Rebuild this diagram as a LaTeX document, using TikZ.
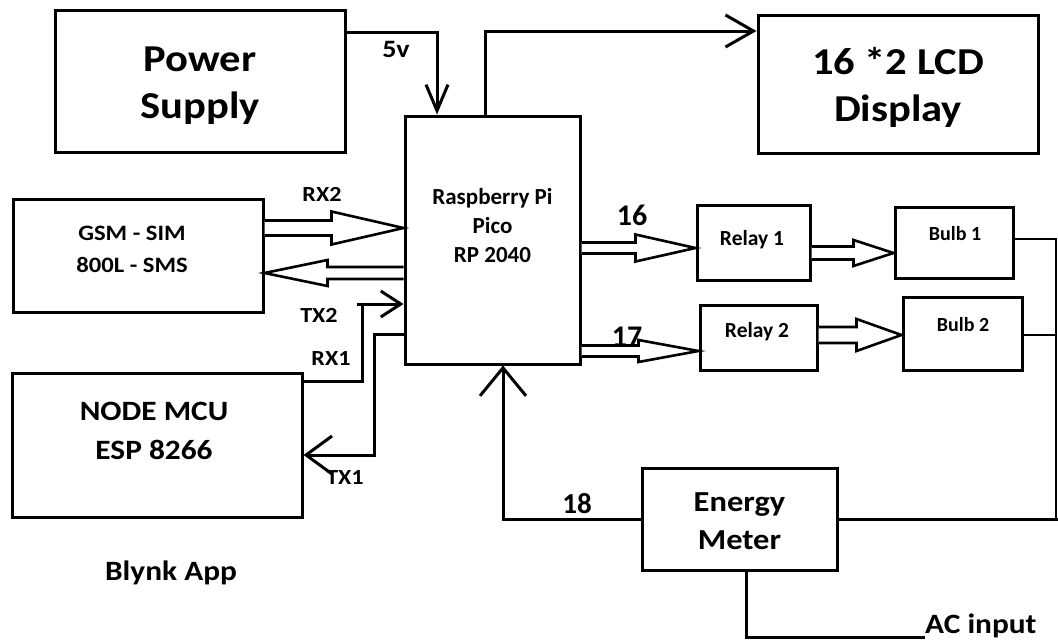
\documentclass[tikz,border=0pt]{standalone}
\usepackage{fontspec}
\setmainfont{Carlito}
\newfontfamily\wide{Carlito}[FakeStretch=1.12]
\usetikzlibrary{arrows.meta,calc}
\newcommand\fs[2]{\fontsize{#1pt}{#2pt}\selectfont}
% hollow double-line arrow: #1 start, #2 tip, #3 shaft half width, #4 head half width, #5 head length
\newcommand\harrow[5]{%
  \coordinate (hA) at ($(#2)!#5!(#1)$);
  \draw[hollow] ($(#1)+(0,#3)$) -- ($(hA)+(0,#3)$) -- ($(hA)+(0,#4)$) -- (#2)
    -- ($(hA)+(0,-#4)$) -- ($(hA)+(0,-#3)$) -- ($(#1)+(0,-#3)$);}
\begin{document}
\begin{tikzpicture}[x=1pt,y=-1pt,
  box/.style={draw, line width=3pt, inner sep=0pt, align=center},
  wire/.style={line width=3pt},
  thinwire/.style={line width=1.6pt},
  hollow/.style={line width=2.6pt, fill=white, line join=miter},
  lbl/.style={font=\bfseries, inner sep=0pt, align=center}]
\useasboundingbox (0,0) rectangle (1058,643);

% boxes
\node[box, minimum width=290pt, minimum height=142pt] (ps) at (200,81) {};
\node[box, minimum width=280pt, minimum height=138pt] (lcd) at (898,84) {};
\node[box, minimum width=175pt, minimum height=248pt] (pico) at (492.5,240) {};
\node[box, minimum width=250pt, minimum height=113pt] (gsm) at (138,255.5) {};
\node[box, minimum width=290pt, minimum height=144pt] (mcu) at (157,445) {};
\node[box, minimum width=113pt, minimum height=75pt] (r1) at (753.5,242.5) {};
\node[box, minimum width=117pt, minimum height=65pt] (r2) at (758.5,337.5) {};
\node[box, minimum width=118pt, minimum height=71pt] (b1) at (954,242.5) {};
\node[box, minimum width=119pt, minimum height=73pt] (b2) at (962.5,333.5) {};
\node[box, minimum width=195pt, minimum height=102pt] (em) at (739.5,519) {};

% box texts
\node[lbl, font=\wide\bfseries\fs{38}{47}] (pst) at (200,86) {Power\\Supply};
\node[lbl, font=\wide\bfseries\fs{38}{47}] (lcdt) at (898,87) {16 *2 LCD\\Display};
\node[lbl, font=\bfseries\fs{23}{29}] (picot) at (492.5,226) {Raspberry Pi\\Pico\\RP 2040};
\node[lbl, font=\wide\bfseries\fs{22}{32}] (gsmt) at (132,249) {GSM - SIM\\800L - SMS};
\node[lbl, font=\wide\bfseries\fs{28}{39}] (mcut) at (154,431) {NODE MCU\\ESP 8266};
\node[lbl, font=\bfseries\fs{21.5}{26}] (r1t) at (752,240) {Relay 1};
\node[lbl, font=\bfseries\fs{21.5}{26}] (r2t) at (757,332) {Relay 2};
\node[lbl, font=\bfseries\fs{20}{24}] (b1t) at (955,234) {Bulb 1};
\node[lbl, font=\bfseries\fs{20}{24}] (b2t) at (963,325) {Bulb 2};
\node[lbl, font=\wide\bfseries\fs{29}{38}] (emt) at (739.5,521) {Energy\\Meter};
\node[lbl, font=\wide\bfseries\fs{28}{34}] (blynk) at (171,573) {Blynk App};

% plain connectors
\draw[wire, -{Straight Barb[length=26pt,width=22pt]}]
  (ps.east |- 0,32) -- (437,32) -- (pico.north -| 437,0);
\node[lbl, font=\wide\bfseries\fs{25}{30}] (v5) at (396,49) {5v};

\draw[wire, -{Straight Barb[length=28pt,width=32pt]}]
  (pico.north -| 485,0) -- (485,31) -- (lcd.west |- 0,31);

\draw[wire, -{Straight Barb[length=20pt,width=26pt]}]
  (mcu.east |- 0,381) -- (362,381) -- (362,304) -- (pico.west |- 0,304);
\draw[wire] (357,304) -- (362,304);
\draw[wire, -{Straight Barb[length=26pt,width=38pt]}]
  (pico.west |- 0,334) -- (374,334) -- (374,455) -- (mcu.east |- 0,455);

\node[lbl, font=\wide\bfseries\fs{21.5}{26}] (rx2) at (322,194) {RX2};
\node[lbl, font=\wide\bfseries\fs{21.5}{26}] (tx2) at (319,315) {TX2};
\node[lbl, font=\wide\bfseries\fs{21.5}{26}] (rx1) at (331,359) {RX1};
\node[lbl, font=\wide\bfseries\fs{21.5}{26}] (tx1) at (345,478) {TX1};

\draw[wire, -{Straight Barb[length=28pt,width=46pt]}]
  (em.west) -| (pico.south -| 503,0);
\node[lbl, font=\bfseries\fs{29}{34}] (n18) at (577,504) {18};

\coordinate (rtc) at (1058,519);
\draw[wire] (em.east) -- (rtc);
\coordinate (bus) at (1056,519);
\draw[thinwire] (b1.east |- 0,239) -| (bus);
\draw[thinwire] (b2.east |- 0,335) -- (bus |- 0,335);

\node[lbl, font=\wide\bfseries\fs{28}{34}, anchor=base west] (ac) at (925,633) {AC input};
\draw[wire] (em.south -| 746,0) -- (746,637) -- (ac.west |- 0,637);

% hollow arrows
\coordinate (rx2a) at (gsm.east |- 0,228);
\coordinate (rx2b) at (pico.west |- 0,228);
\harrow{rx2a}{rx2b}{7.5}{16.5}{72pt}
\coordinate (tx2a) at (pico.west |- 0,273);
\coordinate (tx2b) at (gsm.east |- 0,273);
\harrow{tx2a}{tx2b}{6}{13}{63pt}
\coordinate (p16a) at (pico.east |- 0,248);
\coordinate (p16b) at (r1.west |- 0,248);
\harrow{p16a}{p16b}{5.5}{13.5}{60pt}
\coordinate (p17a) at (pico.east |- 0,351);
\coordinate (p17b) at (r2.west |- 0,351);
\harrow{p17a}{p17b}{5.5}{11}{60pt}
\coordinate (rb1a) at (r1.east |- 0,253);
\coordinate (rb1b) at (b1.west |- 0,253);
\harrow{rb1a}{rb1b}{6.5}{13}{40pt}
\coordinate (rb2a) at (r2.east |- 0,335);
\coordinate (rb2b) at (b2.west |- 0,335);
\harrow{rb2a}{rb2b}{8}{16}{45pt}

\node[lbl, font=\bfseries\fs{30}{36}] (n16) at (632,215) {16};
\node[lbl, font=\bfseries\fs{30}{36}] (n17) at (627,337) {17};
\end{tikzpicture}
\end{document}
